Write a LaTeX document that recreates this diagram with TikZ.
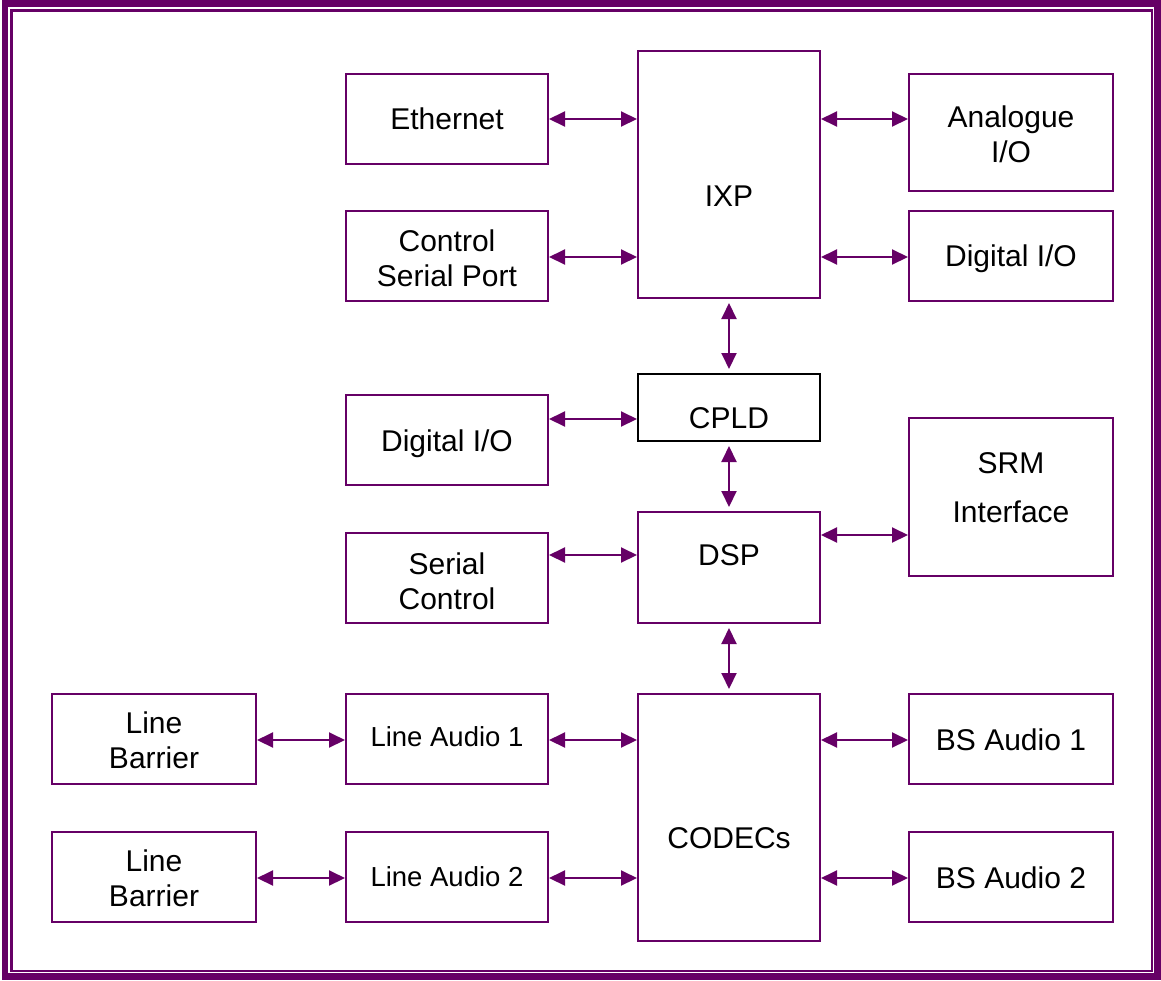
\documentclass[tikz,border=0pt]{standalone}
\usepackage{fontspec}
\setmainfont{Liberation Sans}
\usetikzlibrary{arrows.meta}
\definecolor{pcol}{RGB}{102,0,102}
\tikzset{
  box/.style={draw=pcol, line width=2pt, inner sep=0pt, fill=white},
  txt/.style={anchor=base, align=center, inner sep=0pt, font=\fontsize{30}{35}\selectfont},
  stxt/.style={anchor=base, align=center, inner sep=0pt, font=\fontsize{27.5}{33}\selectfont},
  arr/.style={draw=pcol, line width=2pt, {Triangle[length=16pt,width=15pt]}-{Triangle[length=16pt,width=15pt]}},
  varr/.style={arr, shorten <=4pt, shorten >=4pt}
}
\begin{document}
\begin{tikzpicture}[x=1pt,y=-1pt]
\useasboundingbox (0,0) rectangle (1161,980);
% frame
\draw[pcol, line width=6.5pt] (5,3.3) rectangle (1157.3,976.7);
\draw[pcol, line width=2.5pt] (11.5,10.5) rectangle (1152,971);
% boxes
\node[box, minimum width=202pt, minimum height=90pt] (eth) at (447,119) {};
\node[box, minimum width=202pt, minimum height=90pt] (csp) at (447,256) {};
\node[box, minimum width=182pt, minimum height=247pt] (ixp) at (729,174.5) {};
\node[box, minimum width=204pt, minimum height=117pt] (ana) at (1011,132.5) {};
\node[box, minimum width=204pt, minimum height=90pt] (dior) at (1011,256) {};
\node[box, draw=black, minimum width=182pt, minimum height=67pt] (cpld) at (729,407.5) {};
\node[box, minimum width=202pt, minimum height=90pt] (diol) at (447,440) {};
\node[box, minimum width=204pt, minimum height=158pt] (srm) at (1011,497) {};
\node[box, minimum width=182pt, minimum height=111pt] (dsp) at (729,567.5) {};
\node[box, minimum width=202pt, minimum height=90pt] (sc) at (447,578) {};
\node[box, minimum width=204pt, minimum height=90pt] (lb1) at (154,739) {};
\node[box, minimum width=202pt, minimum height=90pt] (la1) at (447,739) {};
\node[box, minimum width=182pt, minimum height=247pt] (cod) at (729,817.5) {};
\node[box, minimum width=204pt, minimum height=90pt] (bs1) at (1011,739) {};
\node[box, minimum width=204pt, minimum height=90pt] (lb2) at (154,877) {};
\node[box, minimum width=202pt, minimum height=90pt] (la2) at (447,877) {};
\node[box, minimum width=204pt, minimum height=90pt] (bs2) at (1011,877) {};
% texts (anchor base = baseline of the last line)
\node[txt] (ethT) at (447,129) {Ethernet};
\node[txt] (cspT) at (447,286) {Control\\Serial Port};
\node[txt] (ixpT) at (729,206) {IXP};
\node[txt] (anaT) at (1011,162) {Analogue\\I/O};
\node[txt] (diorT) at (1011,266) {Digital I/O};
\node[txt] (cpldT) at (729,428) {CPLD};
\node[txt] (diolT) at (447,451) {Digital I/O};
\node[txt, font=\fontsize{30}{49}\selectfont] (srmT) at (1011,522) {SRM\\Interface};
\node[txt] (dspT) at (729,565) {DSP};
\node[txt] (scT) at (447,609) {Serial\\Control};
\node[txt] (lb1T) at (154,768) {Line\\Barrier};
\node[stxt] (la1T) at (447,746) {Line Audio 1};
\node[txt] (codT) at (729,848) {CODECs};
\node[txt] (bs1T) at (1011,750) {BS Audio 1};
\node[txt] (lb2T) at (154,906) {Line\\Barrier};
\node[stxt] (la2T) at (447,886) {Line Audio 2};
\node[txt] (bs2T) at (1011,888) {BS Audio 2};
% connectors
\draw[arr] (eth.east |- 0,119) -- (ixp.west |- 0,119);
\draw[arr] (csp.east |- 0,257) -- (ixp.west |- 0,257);
\draw[arr] (ixp.east |- 0,119) -- (ana.west |- 0,119);
\draw[arr] (ixp.east |- 0,257) -- (dior.west |- 0,257);
\draw[varr] (ixp.south) -- (cpld.north);
\draw[arr] (diol.east |- 0,419) -- (cpld.west |- 0,419);
\draw[varr] (cpld.south) -- (dsp.north);
\draw[arr] (sc.east |- 0,555) -- (dsp.west |- 0,555);
\draw[arr] (dsp.east |- 0,535) -- (srm.west |- 0,535);
\draw[varr] (dsp.south) -- (cod.north);
\draw[arr] (lb1.east |- 0,740) -- (la1.west |- 0,740);
\draw[arr] (la1.east |- 0,740) -- (cod.west |- 0,740);
\draw[arr] (cod.east |- 0,740) -- (bs1.west |- 0,740);
\draw[arr] (lb2.east |- 0,878) -- (la2.west |- 0,878);
\draw[arr] (la2.east |- 0,878) -- (cod.west |- 0,878);
\draw[arr] (cod.east |- 0,878) -- (bs2.west |- 0,878);
\end{tikzpicture}
\end{document}
